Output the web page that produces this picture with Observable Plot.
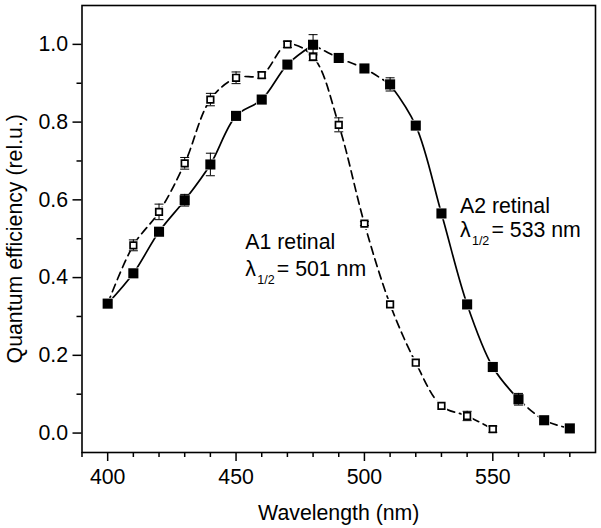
<!DOCTYPE html>
<html>
<head>
<meta charset="utf-8">
<script src="https://cdn.jsdelivr.net/npm/d3@7"></script>
<script src="https://cdn.jsdelivr.net/npm/@observablehq/plot@0.6"></script>
<style>
  html, body { margin: 0; padding: 0; background: white; }
</style>
</head>
<body>
<div id="chart"></div>
<script>
// ---- data ----
const wlA1 = [400, 410, 420, 430, 440, 450, 460, 470, 480, 490, 500, 510, 520, 530, 540, 550];
const qeA1 = [0.333, 0.483, 0.569, 0.694, 0.858, 0.914, 0.921, 1.0, 0.968, 0.793, 0.539, 0.331, 0.181, 0.070, 0.044, 0.010];
const errA1 = [0, 0.014, 0.02, 0.015, 0.016, 0.015, 0.008, 0.008, 0.01, 0.018, 0.005, 0, 0, 0, 0.012, 0.008];

const wlA2 = [400, 410, 420, 430, 440, 450, 460, 470, 480, 490, 500, 510, 520, 530, 540, 550, 560, 570, 580];
const qeA2 = [0.333, 0.411, 0.518, 0.599, 0.691, 0.816, 0.858, 0.948, 0.999, 0.965, 0.938, 0.897, 0.791, 0.565, 0.331, 0.170, 0.087, 0.033, 0.012];
const errA2 = [0, 0, 0, 0.015, 0.029, 0, 0, 0, 0.026, 0, 0, 0.017, 0, 0, 0, 0, 0.015, 0, 0];

// A2 curve: solid and dashed wavelength ranges
const a2Solid = [[400, 480], [510, 560]];
const a2Dashed = [[480, 510], [560, 580]];

const xMajor = [400, 450, 500, 550];
const xMinor = [390, 410, 420, 430, 440, 460, 470, 480, 490, 510, 520, 530, 540, 560, 570, 580];
const yMajor = [0, 0.2, 0.4, 0.6, 0.8, 1.0];
const yMinor = [0.1, 0.3, 0.5, 0.7, 0.9];

const annName = ["A1 retinal", "A2 retinal"];
const annX = [453.6, 537.2];
const annY1 = [0.473, 0.567];
const annY2 = [0.404, 0.505];
const annHalf = ["= 501 nm", "= 533 nm"];

const xLabel = "Wavelength (nm)";
const yLabel = "Quantum efficiency (rel.u.)";
const yLabelAt = 0.5;

// ---- tables ----
const A1 = wlA1.map((x, i) => ({x, y: qeA1[i], e: errA1[i]}));
const A2 = wlA2.map((x, i) => ({x, y: qeA2[i], e: errA2[i]}));
const seg = (ranges) => ranges.flatMap(([a, b], k) => A2.filter(d => d.x >= a && d.x <= b).map(d => ({...d, z: k})));
const errRows = [...A1, ...A2].filter(d => d.e > 0);
const capRows = errRows.flatMap(d => [{x: d.x, y: d.y - d.e}, {x: d.x, y: d.y + d.e}]);
const ann = annName.map((t, i) => ({t, x: annX[i], y1: annY1[i], y2: annY2[i], h: annHalf[i]}));

const capSymbol = {
  draw(ctx, size) {
    const r = Math.sqrt(size / Math.PI);
    ctx.moveTo(-r, 0);
    ctx.lineTo(r, 0);
  }
};

const font = "'Liberation Sans', Arial, Helvetica, sans-serif";
const fs = 21.3;

const chart = Plot.plot({
  width: 601,
  height: 528,
  marginLeft: 81.5,
  marginRight: 6,
  marginTop: 5,
  marginBottom: 76,
  style: {fontFamily: font, fontSize: fs + "px", color: "black", background: "white", overflow: "visible"},
  x: {domain: [390, 590]},
  y: {domain: [-0.05, 1.1]},
  marks: [
    // curves
    Plot.line(A1, {x: "x", y: "y", curve: "catmull-rom", stroke: "black", strokeWidth: 1.7, strokeDasharray: "8,5"}),
    Plot.line(seg(a2Solid), {x: "x", y: "y", z: "z", curve: "catmull-rom", stroke: "black", strokeWidth: 1.7}),
    Plot.line(seg(a2Dashed), {x: "x", y: "y", z: "z", curve: "catmull-rom", stroke: "black", strokeWidth: 1.7, strokeDasharray: "8,5"}),
    // symbol gaps
    Plot.dot(A1, {x: "x", y: "y", symbol: "square", r: 6.3, fill: "white", stroke: "none"}),
    Plot.dot(A2, {x: "x", y: "y", symbol: "square", r: 6.5, fill: "white", stroke: "none"}),
    // error bars
    Plot.ruleX(errRows, {x: "x", y1: d => d.y - d.e, y2: d => d.y + d.e, stroke: "black", strokeWidth: 1}),
    Plot.dot(capRows, {x: "x", y: "y", symbol: capSymbol, r: 4.5, stroke: "black", strokeWidth: 1, fill: "none"}),
    // markers
    Plot.dot(A1, {x: "x", y: "y", symbol: "square", r: 3.7, fill: "white", stroke: "black", strokeWidth: 1.7}),
    Plot.dot(A2, {x: "x", y: "y", symbol: "square", r: 5.7, fill: "black", stroke: "none"}),
    // annotations
    Plot.text(ann, {x: "x", y: "y1", text: "t", textAnchor: "start", lineAnchor: "bottom", fontSize: fs, fill: "black"}),
    Plot.text(ann, {x: "x", y: "y2", text: () => "λ", textAnchor: "start", lineAnchor: "bottom", fontSize: fs, fill: "black"}),
    Plot.text(ann, {x: "x", y: "y2", text: () => "1/2", textAnchor: "start", lineAnchor: "bottom", fontSize: 12.5, dx: 12, dy: 8, fill: "black"}),
    Plot.text(ann, {x: "x", y: "y2", text: "h", textAnchor: "start", lineAnchor: "bottom", fontSize: fs, dx: 31.5, fill: "black"}),
    // axes
    Plot.axisX({ticks: xMajor, tickSize: 9, tickPadding: 7, strokeWidth: 1.5, fontSize: fs,
      label: xLabel, labelAnchor: "center", labelArrow: "none", labelOffset: 67}),
    Plot.axisX({ticks: xMinor, tickSize: 5, strokeWidth: 1.5, text: null, label: null}),
    Plot.axisY({ticks: yMajor, tickSize: 9, tickPadding: 5, strokeWidth: 1.5, fontSize: fs,
      tickFormat: d3.format(".1f"), label: null}),
    Plot.axisY({ticks: yMinor, tickSize: 5, strokeWidth: 1.5, text: null, label: null}),
    Plot.text([yLabel], {y: [yLabelAt], text: d => d, frameAnchor: "left", dx: -75, rotate: -90,
      textAnchor: "middle", lineAnchor: "top", fontSize: fs, fill: "black"}),
    Plot.frame({stroke: "black", strokeWidth: 1.6})
  ]
});

document.getElementById("chart").appendChild(chart);
</script>
</body>
</html>
